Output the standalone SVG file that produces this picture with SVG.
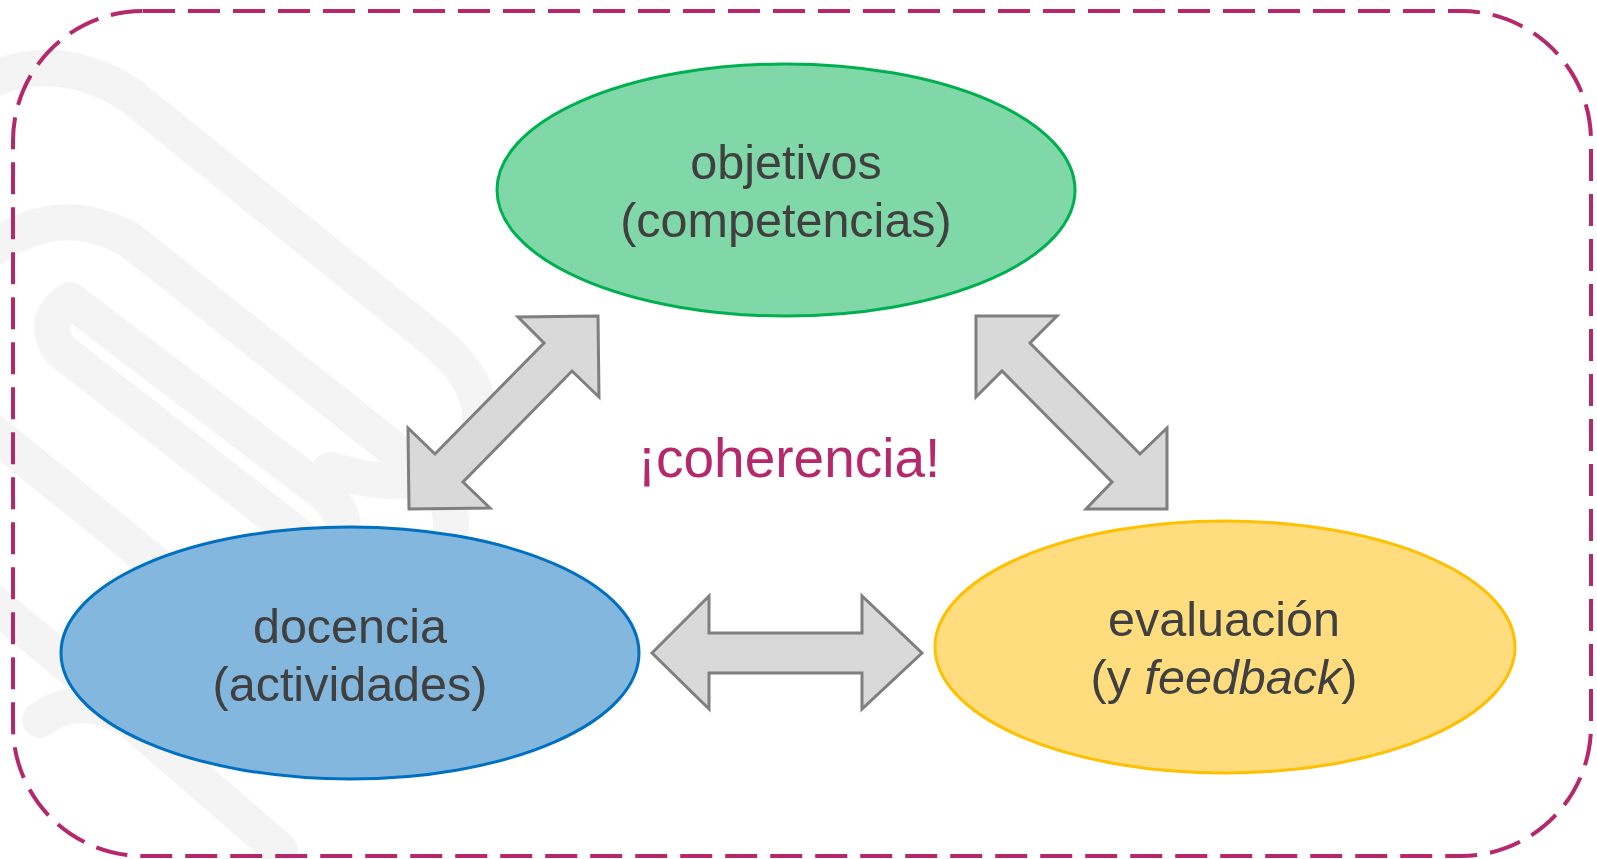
<svg xmlns="http://www.w3.org/2000/svg" width="1597" height="859" viewBox="0 0 1597 859">
<style>
.wm{fill:none;stroke:#f4f4f4;stroke-width:36;stroke-linecap:round;stroke-linejoin:round}
.arrow{fill:#d9d9d9;stroke:#7f7f7f;stroke-width:3;stroke-linejoin:miter}
.lbl{font-family:"Liberation Sans",Arial,sans-serif;font-size:48.5px;fill:#404040;text-anchor:middle}
</style>
<rect width="1597" height="859" fill="#ffffff"/>
<g id="watermark">
<path class="wm" d="M -10 80 Q 60 50 130 95 L 440 345 Q 500 400 470 450 Q 430 500 330 470"/>
<path class="wm" d="M -10 250 Q 60 200 130 240 L 420 470 Q 470 510 440 560"/>
<path class="wm" d="M 70 300 L 320 490 Q 360 520 330 560 L 60 350 Q 40 320 70 300 Z"/>
<path class="wm" d="M -10 430 L 250 640 Q 290 680 260 720"/>
<path class="wm" d="M 40 720 Q 80 690 130 720 L 280 850"/>
<path class="wm" d="M -10 600 L 110 700"/>
</g>
<rect id="frame" x="13" y="11" width="1578" height="845" rx="130" ry="130" fill="none" stroke="#b5286c" stroke-width="4" stroke-dasharray="32 13"/>
<g id="connectors">
<polygon class="arrow" points="598,316 518,317 544,343 435,454 408,428 409,509 490,508 463,482 572,371 599,397"/>
<polygon class="arrow" points="976,316 1057,316 1030,343 1140,454 1167,428 1167,509 1086,509 1112,482 1002,371 976,397"/>
<polygon class="arrow" points="652,653 709,596 709,633 862,633 862,596 922,653 862,709 862,673 709,673 709,709"/>
</g>
<g id="objetivos">
<ellipse cx="786" cy="190" rx="289" ry="126" fill="#80d8a8" stroke="#00b050" stroke-width="3"/>
<text class="lbl" x="786" y="179">objetivos</text>
<text class="lbl" x="786" y="237">(competencias)</text>
</g>
<g id="docencia">
<ellipse cx="350" cy="653" rx="289" ry="126" fill="#7fb5dd" fill-opacity="0.97" stroke="#0070c0" stroke-width="3"/>
<text class="lbl" x="350" y="643">docencia</text>
<text class="lbl" x="350" y="701">(actividades)</text>
</g>
<g id="evaluacion">
<ellipse cx="1225" cy="647" rx="290" ry="126" fill="#ffdd7f" stroke="#ffc000" stroke-width="3"/>
<text class="lbl" x="1224" y="636">evaluación</text>
<text class="lbl" x="1224" y="694">(y <tspan font-style="italic">feedback</tspan>)</text>
</g>
<text id="coherencia" x="789" y="477" font-family="Liberation Sans,Arial,sans-serif" font-size="55" fill="#b5286c" text-anchor="middle">¡coherencia!</text>
</svg>
